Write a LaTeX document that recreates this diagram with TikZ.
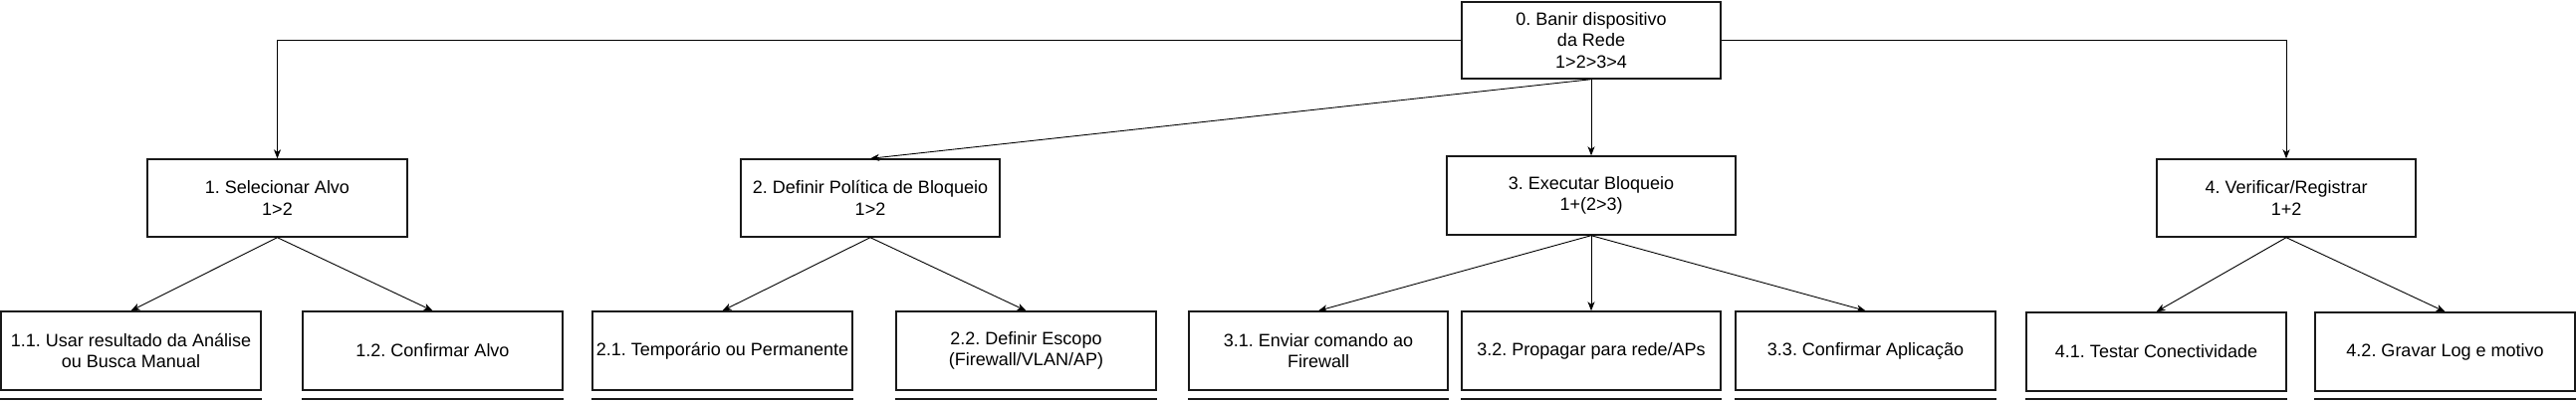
\documentclass[tikz,border=0pt]{standalone}
\usepackage{fontspec}
\setmainfont{Liberation Sans}
\usetikzlibrary{arrows.meta}
\frenchspacing
\tikzset{
  box/.style={draw=black!90, line width=1.4pt, fill=white, align=center, inner sep=0pt,
    minimum width=260pt, minimum height=78pt, font=\fontsize{18}{21.5}\selectfont},
  conn/.style={draw=black, line width=0.9pt, -{Stealth[length=9pt,width=7pt,inset=2.5pt]}},
  underl/.style={draw=black!90, line width=1.4pt}
}
\begin{document}
\begin{tikzpicture}[x=1pt,y=-1pt]
\useasboundingbox (0,0) rectangle (2587,402);
\fill[white] (0,0) rectangle (2587,402);
% nodes
\node[box, minimum height=77pt] (root) at (1598,40.5) {0. Banir dispositivo\\da Rede\\1>2>3>4};
\node[box, minimum width=261pt] (n1) at (278.5,199) {1. Selecionar Alvo\\1>2};
\node[box] (n2) at (874,199) {2. Definir Política de Bloqueio\\1>2};
\node[box, minimum width=290pt, minimum height=79pt] (n3) at (1598,196.5) {3. Executar Bloqueio\\1+(2>3)};
\node[box] (n4) at (2296,199) {4. Verificar/Registrar\\1+2};
\node[box, minimum width=261pt, minimum height=79pt] (n11) at (131.5,352.5) {1.1. Usar resultado da Análise\\ou Busca Manual};
\node[box, minimum width=261pt, minimum height=79pt] (n12) at (434.5,352.5) {1.2. Confirmar Alvo};
\node[box, minimum width=261pt, minimum height=79pt] (n21) at (725.5,352.5) {2.1. Temporário ou Permanente};
\node[box, minimum width=261pt, minimum height=79pt] (n22) at (1030.5,352.5) {2.2. Definir Escopo\\(Firewall/VLAN/AP)};
\node[box, minimum height=79pt] (n31) at (1324,352.5) {3.1. Enviar comando ao\\Firewall};
\node[box, minimum height=79pt] (n32) at (1598,352.5) {3.2. Propagar para rede/APs};
\node[box, minimum width=261pt, minimum height=79pt] (n33) at (1873.5,352.5) {3.3. Confirmar Aplicação};
\node[box, minimum width=261pt, minimum height=79pt] (n41) at (2165.5,353.5) {4.1. Testar Conectividade};
\node[box, minimum width=261pt, minimum height=79pt] (n42) at (2455.5,353.5) {4.2. Gravar Log e motivo};
% underlines (tops of cut-off boxes)
\coordinate (u) at (0,401);
\foreach \n in {n11,n12,n21,n22,n31,n32,n33,n41,n42}{
  \draw[underl] (\n.west |- u) -- (\n.east |- u);
}
% connectors
\draw[conn] (root.west) -| (n1.north);
\draw[conn] (root.east) -| (n4.north);
\draw[conn] (root.south) -- (n2.north);
\draw[conn] (root.south) -- (n3.north);
\draw[conn] (n1.south) -- (n11.north);
\draw[conn] (n1.south) -- (n12.north);
\draw[conn] (n2.south) -- (n21.north);
\draw[conn] (n2.south) -- (n22.north);
\draw[conn] (n3.south) -- (n31.north);
\draw[conn] (n3.south) -- (n32.north);
\draw[conn] (n3.south) -- (n33.north);
\draw[conn] (n4.south) -- (n41.north);
\draw[conn] (n4.south) -- (n42.north);
\end{tikzpicture}
\end{document}
